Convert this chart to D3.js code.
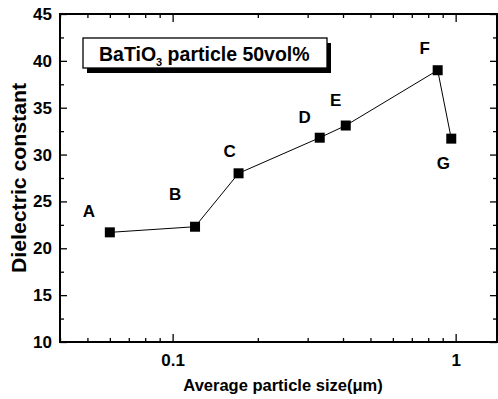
<!DOCTYPE html>
<html>
<head>
<meta charset="utf-8">
<script src="https://cdn.jsdelivr.net/npm/d3@7"></script>
<style>
  body { margin: 0; background: #fff; }
  svg { font-family: "Liberation Sans", Arial, sans-serif; font-weight: bold; }
</style>
</head>
<body>
<svg width="498" height="399"></svg>
<script>
// data
const samples = ['A', 'B', 'C', 'D', 'E', 'F', 'G'];
const sizes = [0.06, 0.12, 0.171, 0.331, 0.409, 0.864, 0.965];
const dielectric = [21.7, 22.3, 28.0, 31.8, 33.1, 39.0, 31.7];
const yTicks = [10, 15, 20, 25, 30, 35, 40, 45];
const xTicks = [0.1, 1];

const margin = { top: 14, right: 1, bottom: 57, left: 60 };
const width = 498 - margin.left - margin.right;
const height = 399 - margin.top - margin.bottom;

const svg = d3.select('svg');
const g = svg.append('g').attr('transform', `translate(${margin.left},${margin.top})`);

// scales
const x = d3.scaleLog().domain([0.04, 1.4]).range([0, width]);
const y = d3.scaleLinear().domain([10, 45]).range([height, 0]);

// minor ticks on the log axis
const xMinor = x.ticks().filter(v => !xTicks.some(t => Math.abs(t - v) < 1e-9));
const yMinor = d3.range(12.5, 45, 5);

// bottom axis
const axBottom = g.append('g').attr('transform', `translate(0,${height})`);
axBottom.call(d3.axisBottom(x).tickValues(xTicks).tickFormat(d3.format('')).tickSizeInner(-8).tickSizeOuter(0).tickPadding(12));
axBottom.append('g').call(d3.axisBottom(x).tickValues(xMinor).tickFormat('').tickSizeInner(-4).tickSizeOuter(0));

// top axis
const axTop = g.append('g');
axTop.call(d3.axisTop(x).tickValues(xTicks).tickFormat('').tickSizeInner(-8).tickSizeOuter(0));
axTop.append('g').call(d3.axisTop(x).tickValues(xMinor).tickFormat('').tickSizeInner(-4).tickSizeOuter(0));

// left axis
const axLeft = g.append('g');
axLeft.call(d3.axisLeft(y).tickValues(yTicks).tickSizeInner(-7).tickSizeOuter(0).tickPadding(8));
axLeft.append('g').call(d3.axisLeft(y).tickValues(yMinor).tickFormat('').tickSizeInner(-4).tickSizeOuter(0));

// right axis
const axRight = g.append('g').attr('transform', `translate(${width},0)`);
axRight.call(d3.axisRight(y).tickValues(yTicks).tickFormat('').tickSizeInner(-7).tickSizeOuter(0));
axRight.append('g').call(d3.axisRight(y).tickValues(yMinor).tickFormat('').tickSizeInner(-4).tickSizeOuter(0));

g.selectAll('.domain').remove();
g.selectAll('.tick line').attr('stroke', '#000').attr('stroke-width', 1.3);
g.selectAll('.tick text').attr('fill', '#000').style('font-size', '17px').style('font-weight', 'bold')
  .style('font-family', '"Liberation Sans", Arial, sans-serif');

// frame
g.append('rect').attr('width', width).attr('height', height)
  .attr('fill', 'none').attr('stroke', '#000').attr('stroke-width', 2);

// series
const pts = samples.map((s, i) => ({ s, v: sizes[i], d: dielectric[i] }));
g.append('path').datum(pts)
  .attr('fill', 'none').attr('stroke', '#000').attr('stroke-width', 1)
  .attr('d', d3.line().x(p => x(p.v)).y(p => y(p.d)));

g.selectAll('.pt').data(pts).enter().append('rect')
  .attr('x', p => x(p.v) - 5).attr('y', p => y(p.d) - 5)
  .attr('width', 10).attr('height', 10).attr('fill', '#000');

// sample letters sit around each marker
const labelOffset = { A: [-21, -15], B: [-20, -27], C: [-9, -16], D: [-15, -15], E: [-10, -20], F: [-13, -16], G: [-8, 30] };
g.selectAll('.lbl').data(pts).enter().append('text')
  .attr('x', p => x(p.v) + labelOffset[p.s][0])
  .attr('y', p => y(p.d) + labelOffset[p.s][1])
  .attr('text-anchor', 'middle')
  .style('font-size', '17px')
  .text(p => p.s);

// legend box with drop shadow
const box = { x: 83, y: 38, w: 244, h: 30 };
svg.append('rect').attr('x', box.x + 4).attr('y', box.y + 5).attr('width', box.w).attr('height', box.h).attr('fill', '#000');
svg.append('rect').attr('x', box.x).attr('y', box.y).attr('width', box.w).attr('height', box.h)
  .attr('fill', '#fff').attr('stroke', '#000').attr('stroke-width', 1.3);
const leg = svg.append('text').attr('x', box.x + 16).attr('y', box.y + 23).style('font-size', '19.5px');
leg.append('tspan').text('BaTiO');
leg.append('tspan').attr('dy', 5).style('font-size', '11px').text('3');
leg.append('tspan').attr('dy', -5).text(' particle 50vol%');

// axis titles
svg.append('text')
  .attr('transform', 'translate(26,178) rotate(-90)')
  .attr('text-anchor', 'middle').style('font-size', '21px')
  .attr('textLength', 190).attr('lengthAdjust', 'spacingAndGlyphs')
  .text('Dielectric constant');

svg.append('text')
  .attr('x', 283).attr('y', 391)
  .attr('text-anchor', 'middle').style('font-size', '16.5px')
  .text('Average particle size(μm)');
</script>
</body>
</html>
